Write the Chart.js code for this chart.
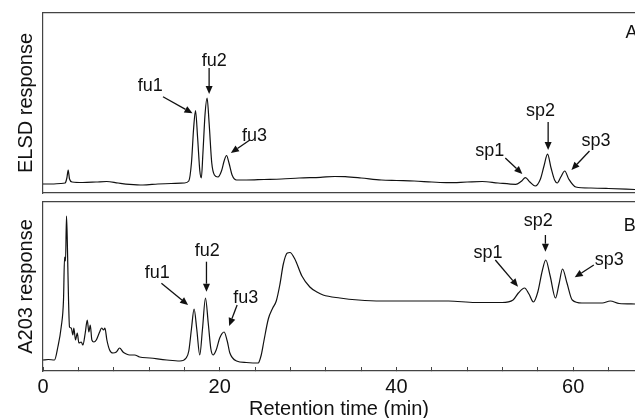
<!DOCTYPE html>
<html>
<head>
<meta charset="utf-8">
<title>ELSD / A203 chromatograms</title>
<script src="https://cdn.jsdelivr.net/npm/chart.js@4.4.1/dist/chart.umd.min.js"></script>
<style>
  html, body { margin: 0; padding: 0; background: #fff; width: 635px; height: 418px; overflow: hidden; }
  .panel { position: absolute; left: 0; width: 635px; }
  #panelA { top: 0; height: 200px; }
  #panelB { top: 190px; height: 240px; }
</style>
</head>
<body>
<div class="panel" id="panelA"><canvas id="chartA" width="635" height="200"></canvas></div>
<div class="panel" id="panelB"><canvas id="chartB" width="635" height="240"></canvas></div>
<script>
// retention time (min) and detector response (arbitrary units)
const elsdTime = [0, 1.0, 2.0, 2.5, 2.7, 2.85, 3.0, 3.3, 4.5, 6.0, 7.2, 8.5, 9.8, 11.3, 13.0, 14.5,
  16.0, 16.5, 16.8, 17.05, 17.26, 17.5, 17.75, 17.92, 18.1, 18.35, 18.57, 18.8, 19.1, 19.4, 19.8,
  20.2, 20.5, 20.77, 21.05, 21.4, 21.9, 23.0, 25.0, 27.0, 29.0, 31.4, 33.0, 34.2, 36.0, 38.3, 40.0,
  42.0, 44.0, 45.9, 48.0, 49.7, 51.5, 53.5, 54.1, 54.6, 55.1, 55.7, 56.3, 56.7, 57.1, 57.5, 57.9,
  58.2, 58.6, 59.05, 59.5, 60.3, 62.0, 64.0, 67.0];
const elsdResp = [9, 9, 9.5, 10, 15, 23, 14, 11, 10.5, 11, 11.5, 10, 8.7, 8, 9, 9.5,
  10, 12, 30, 65, 82.5, 55, 22, 15, 40, 80, 95, 70, 30, 18, 16,
  22, 32, 37.5, 30, 18, 13, 13, 13.5, 14, 15, 15.7, 16.5, 16.3, 15, 13, 12.5,
  12, 11, 10.3, 11, 11.5, 10, 8.7, 11.5, 15.3, 11, 7, 14, 27, 38.8, 25, 13,
  10, 16, 22, 14, 6, 5, 4.5, 3.5];

const a203Time = [0, 0.6, 1.3, 1.68, 2.06, 2.32, 2.44, 2.55, 2.66, 2.75, 2.81, 2.89, 3.0, 3.2, 3.38,
  3.49, 3.68, 3.88, 4.06, 4.33, 4.51, 4.78, 5.01, 5.19, 5.35, 5.53, 5.76, 6.03, 6.41, 6.63, 6.86,
  7.01, 7.23, 7.54, 7.91, 8.3, 8.67, 9.05, 9.43, 9.81, 10.37, 10.93, 12.1, 14.0, 15.5, 16.2, 16.5,
  16.8, 17.1, 17.4, 17.74, 18.05, 18.39, 18.7, 19.0, 19.25, 19.6, 20.0, 20.5, 20.85, 21.15, 21.9,
  23.0, 24.35, 24.7, 25.0, 25.5, 26.0, 26.4, 26.8, 27.2, 27.65, 27.95, 28.5, 29.3, 30.2, 31.0, 31.7,
  33.6, 35.7, 38.3, 42.1, 45.9, 48.9, 51.95, 53.2, 53.8, 54.5, 55.0, 55.5, 56.0, 56.5, 56.9, 57.4,
  58.0, 58.4, 58.8, 59.3, 59.9, 61.0, 63.3, 64.2, 65.2, 67.0];
const a203Resp = [11, 11.5, 11, 24, 44, 71, 114, 110, 155, 130, 104, 71, 44, 43, 36,
  43, 31, 38, 28, 29, 26, 38, 51, 39, 46, 31, 29, 31, 39, 43, 41,
  43, 31, 21, 18, 19, 23, 19, 17, 16, 16, 14, 13, 11, 10, 13, 20,
  42, 62, 42, 16, 42, 73, 48, 22, 16, 21, 33, 39, 30, 18, 10,
  8.5, 8, 16, 30, 52, 63, 70, 86, 107, 118, 118.5, 112, 95, 84, 79, 76,
  73, 71, 70, 70, 70, 68.5, 68.5, 71, 78, 83, 77, 69, 79, 100, 111, 95,
  73, 87, 102, 88, 71, 68, 68, 70, 67.5, 67];

const timeLabels = [0, 20, 40, 60];
const timeStep = 4;
const timeMax = 67;

// peak labels: text anchor and arrow (tail -> tip), in (min, response) units
const elsdNotes = [
  { text: "fu1", at: [10.71, 102.5], from: [13.58, 96.3], to: [16.92, 79.7] },
  { text: "fu2", at: [17.97, 126.7], from: [18.8, 125], to: [18.8, 99] },
  { text: "fu3", at: [22.51, 51.7], from: [23.41, 53], to: [21.26, 40] },
  { text: "sp1", at: [48.92, 36.8], from: [52.32, 35], to: [54.25, 19] },
  { text: "sp2", at: [54.67, 76.8], from: [57.17, 71], to: [57.17, 43] },
  { text: "sp3", at: [60.94, 46.8], from: [61.85, 42], to: [59.81, 23] },
  { text: "A", at: [65.93, 155] },
];
const a203Notes = [
  { text: "fu1", at: [11.51, 93], from: [13.4, 87.7], to: [16.42, 66] },
  { text: "fu2", at: [17.18, 114.7], from: [18.5, 109.3], to: [18.5, 79.3] },
  { text: "fu3", at: [21.52, 68], from: [21.97, 66], to: [21.07, 45] },
  { text: "sp1", at: [48.73, 113], from: [51.19, 111], to: [53.76, 84.3] },
  { text: "sp2", at: [54.4, 144.7], from: [56.86, 136], to: [56.86, 119.3] },
  { text: "sp3", at: [62.45, 106.4], from: [62.34, 106], to: [60.18, 93.7] },
  { text: "B", at: [65.74, 139.7] },
];

const FONT_FAMILY = "'Liberation Sans', Arial, Helvetica, sans-serif";
const INK = "#111";
const FRAME = "#444";

Chart.defaults.font.family = FONT_FAMILY;
Chart.defaults.color = INK;

function drawArrow(ctx, x1, y1, x2, y2) {
  const ang = Math.atan2(y2 - y1, x2 - x1);
  const head = 8, half = 3.5;
  const bx = x2 - head * Math.cos(ang), by = y2 - head * Math.sin(ang);
  ctx.beginPath();
  ctx.moveTo(x1, y1);
  ctx.lineTo(bx, by);
  ctx.stroke();
  ctx.beginPath();
  ctx.moveTo(x2, y2);
  ctx.lineTo(bx + half * Math.sin(ang), by - half * Math.cos(ang));
  ctx.lineTo(bx - half * Math.sin(ang), by + half * Math.cos(ang));
  ctx.closePath();
  ctx.fill();
}

const peakLabels = {
  id: "peakLabels",
  afterDatasetsDraw(chart, args, opts) {
    const { ctx, scales: { x, y } } = chart;
    ctx.save();
    ctx.fillStyle = INK;
    ctx.strokeStyle = INK;
    ctx.lineWidth = 1.3;
    ctx.font = `18px ${FONT_FAMILY}`;
    ctx.textAlign = "left";
    ctx.textBaseline = "alphabetic";
    (opts.items || []).forEach((n) => {
      ctx.fillText(n.text, x.getPixelForValue(n.at[0]), y.getPixelForValue(n.at[1]));
      if (n.from) {
        drawArrow(ctx,
          x.getPixelForValue(n.from[0]), y.getPixelForValue(n.from[1]),
          x.getPixelForValue(n.to[0]), y.getPixelForValue(n.to[1]));
      }
    });
    ctx.restore();
  },
};

function makePanel(canvasId, cfg) {
  const points = cfg.time.map((t, i) => ({ x: t, y: cfg.resp[i] }));
  const frame = { display: true, color: FRAME, width: 1.2 };
  const xAxis = cfg.showTime
    ? {
        type: "linear", position: "bottom", min: 0, max: timeMax,
        border: frame,
        grid: { display: true, drawOnChartArea: false, drawTicks: true, tickLength: -4, color: FRAME, lineWidth: 1 },
        ticks: {
          stepSize: timeStep, autoSkip: false, includeBounds: false, maxRotation: 0, padding: 8,
          font: { size: 20 }, color: INK,
          callback: (v) => (timeLabels.includes(v) ? String(v) : ""),
        },
        title: { display: true, text: "Retention time (min)", font: { size: 20 }, color: INK, padding: { top: 0, bottom: 9 } },
        afterFit: (s) => { s.height = cfg.bottomGap; },
      }
    : {
        type: "linear", position: "bottom", min: 0, max: timeMax,
        border: frame,
        grid: { display: false, drawTicks: false },
        ticks: { display: false },
        afterFit: (s) => { s.height = cfg.bottomGap; },
      };

  return new Chart(document.getElementById(canvasId), {
    type: "line",
    data: {
      datasets: [{
        data: points,
        borderColor: INK,
        borderWidth: 1.2,
        pointRadius: 0,
        fill: false,
        cubicInterpolationMode: "monotone",
      }],
    },
    options: {
      responsive: false,
      animation: false,
      events: [],
      layout: { padding: 0 },
      plugins: {
        legend: { display: false },
        tooltip: { enabled: false },
        peakLabels: { items: cfg.notes },
      },
      scales: {
        x: xAxis,
        xTop: {
          type: "linear", position: "top", min: 0, max: timeMax,
          border: frame,
          grid: { display: false, drawTicks: false },
          ticks: { display: false },
          afterFit: (s) => { s.height = cfg.topGap; },
        },
        y: {
          type: "linear", position: "left", min: 0, max: cfg.yMax,
          border: frame,
          grid: { display: false, drawTicks: false },
          ticks: { display: false },
          title: { display: true, text: cfg.yTitle, font: { size: 20 }, color: INK, padding: { top: 14, bottom: 0 } },
          afterFit: (s) => { s.width = 43; },
        },
      },
    },
    plugins: [peakLabels],
  });
}

makePanel("chartA", {
  time: elsdTime, resp: elsdResp, notes: elsdNotes,
  yTitle: "ELSD response", yMax: 180, topGap: 13, bottomGap: 7, showTime: false,
});
makePanel("chartB", {
  time: a203Time, resp: a203Resp, notes: a203Notes,
  yTitle: "A203 response", yMax: 169, topGap: 12, bottomGap: 59, showTime: true,
});
</script>
</body>
</html>
